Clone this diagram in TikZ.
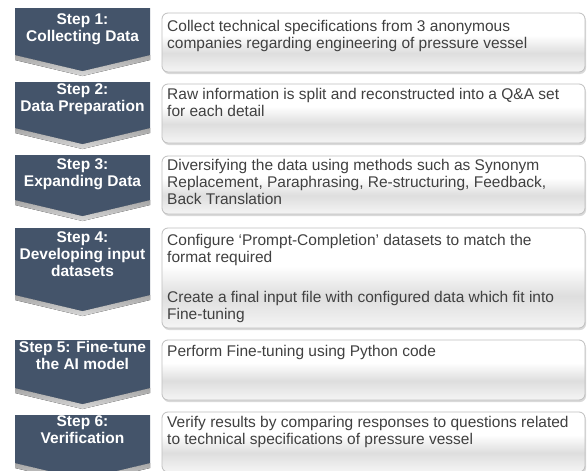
\documentclass[tikz,border=0pt]{standalone}
\usepackage{fontspec}
\setmainfont{Liberation Sans}
\usepackage{tikz}
\definecolor{stepblue}{RGB}{68,84,106}
\definecolor{bodytext}{RGB}{64,64,64}
% glossy fill of the description boxes (white top, grey band, light bottom)
\pgfdeclareverticalshading{glossy}{100bp}{color(0bp)=(gray!8); color(25bp)=(gray!8);
  color(41bp)=(gray!26); color(56bp)=(white); color(75bp)=(white); color(100bp)=(white)}
\tikzset{
  chev/.style={fill=stepblue},
  chevshade/.style={top color=gray!70, bottom color=gray!30},
  infobox/.style={draw=gray!50,line width=0.8pt,rounded corners=6pt,shading=glossy},
  boxshade/.style={fill=gray!30,rounded corners=6pt},
  steplbl/.style={anchor=north,inner sep=0pt,align=center,text=white,
    font=\fontsize{15.5}{17}\selectfont\bfseries},
  infotxt/.style={anchor=north west,inner sep=0pt,align=left,text=bodytext,
    font=\fontsize{15.5}{17}\selectfont},
}

\begin{document}
\begin{tikzpicture}[x=1pt,y=-1pt]
    \useasboundingbox (0,0) rectangle (587,471);
    \clip (0,0) rectangle (587,471);
    \fill[white] (0,0) rectangle (587,471);
    % ---------------- step arrows (top / start of the point) ----------------
    \foreach \t/\b in {8/55,82/128,155/200,228/295,340/388,415/463}{
      \fill[chevshade] (15,\b) -- (82.5,\b+16) -- (150,\b) -- (150,\b+5)
        -- (82.5,\b+21) -- (15,\b+5) -- cycle;
      \fill[chev] (15,\t) -- (150,\t) -- (150,\b) -- (82.5,\b+16) -- (15,\b) -- cycle;
    }
    % ---------------- description boxes ----------------
    \foreach \t/\b in {13/72,84/143,156/214,228/328,340/400,412/472}{
      \fill[boxshade] (163,\t+2) rectangle (586,\b+2);
      \path[infobox] (162,\t) rectangle (585,\b);
    }
    % ---------------- labels ----------------
    \node[steplbl] (s1) at (82.5,13) {Step 1:\\Collecting Data};
    \node[steplbl] (s2) at (82.5,83) {Step 2:\\Data Preparation};
    \node[steplbl] (s3) at (82.5,158) {Step 3:\\Expanding Data};
    \node[steplbl] (s4) at (82.5,231) {Step 4:\\Developing input\\datasets};
    \node[steplbl] (s5) at (82.5,341) {Step 5: Fine-tune\\the AI model};
    \node[steplbl] (s6) at (82.5,415) {Step 6:\\Verification};
    % texts inside the boxes
    \node[infotxt] (d1) at (167,20) {Collect technical specifications from 3 anonymous\\companies regarding engineering of pressure vessel};
    \node[infotxt] (d2) at (167,88) {Raw information is split and reconstructed into a Q\&A set\\for each detail};
    \node[infotxt] (d3) at (167,159) {Diversifying the data using methods such as Synonym\\Replacement, Paraphrasing, Re-structuring, Feedback,\\Back Translation};
    \node[infotxt] (d4) at (167,234) {Configure ‘Prompt-Completion’ datasets to match the\\format required\\[23pt]Create a final input file with configured data which fit into\\Fine-tuning};
    \node[infotxt] (d5) at (167,345) {Perform Fine-tuning using Python code};
    \node[infotxt] (d6) at (167,416) {Verify results by comparing responses to questions related\\to technical specifications of pressure vessel};
\end{tikzpicture}
\end{document}
